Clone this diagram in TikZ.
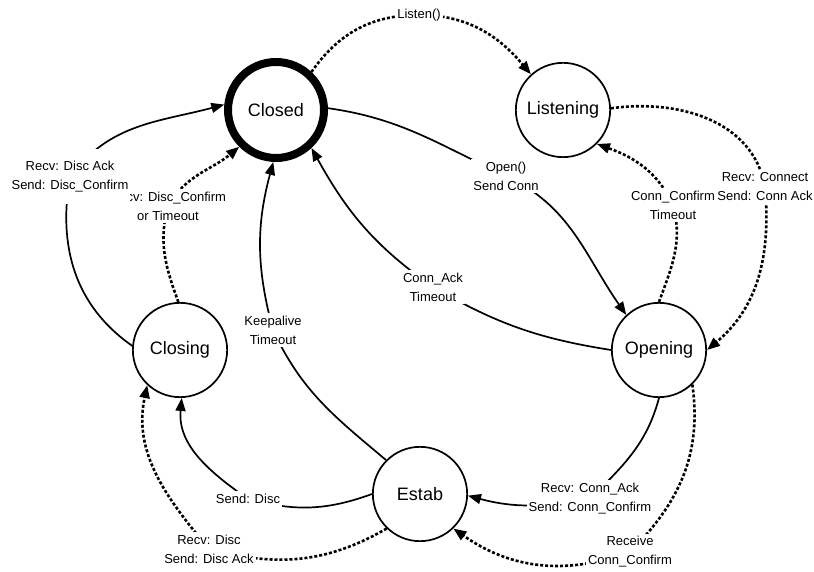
\documentclass[tikz,border=0pt]{standalone}
\usepackage{fontspec}
\setmainfont{Liberation Sans}
\usetikzlibrary{arrows.meta,backgrounds}
\begin{document}
\begin{tikzpicture}[x=1pt,y=1pt,
  state/.style={circle,draw,fill=white,line width=1.7pt,minimum size=94.3pt,inner sep=0pt,font=\fontsize{18}{21}\selectfont},
  lbl/.style={fill=white,align=center,inner xsep=2pt,inner ysep=3pt,font=\fontsize{13}{19}\selectfont},
  solidedge/.style={line width=1.7pt,-{Triangle[length=13pt,width=10pt]}},
  dashedge/.style={line width=2.6pt,dash pattern=on 3pt off 2pt,-{Triangle[length=13pt,width=10pt]}},
]
\useasboundingbox (0,0) rectangle (814,571);
% states
\node[state,line width=8pt,minimum size=96pt] (closed) at (276,461) {Closed};
\node[state] (listening) at (563,461) {Listening};
\node[state] (opening) at (659,221) {Opening};
\node[state] (estab) at (420,77) {Estab};
\node[state] (closing) at (180,221) {Closing};
% labels
\node[lbl] (lListen) at (419,556) {Listen()};
\node[lbl] (lOpen) at (506,395) {Open()\\Send Conn};
\node[lbl] (lConnect) at (765,384) {Recv: Connect\\Send: Conn Ack};
\node[lbl] (lConfT) at (673,366) {Conn\_Confirm\\Timeout};
\node[lbl] (lAckT) at (433,284) {Conn\_Ack\\Timeout};
\node[lbl] (lConnAck) at (590,72) {Recv: Conn\_Ack\\Send: Conn\_Confirm};
\node[lbl] (lReceive) at (630,19) {Receive\\Conn\_Confirm};
\node[lbl] (lKeep) at (273,241) {Keepalive\\Timeout};
\node[lbl] (lSendDisc) at (248,72) {Send: Disc};
\node[lbl] (lRecvDisc) at (209,22) {Recv: Disc\\Send: Disc Ack};
\node[lbl] (lDiscConf) at (168,365) {Recv: Disc\_Confirm\\or Timeout};
\node[lbl,inner ysep=12pt] (lDiscAck) at (70,394) {Recv: Disc Ack\\Send: Disc\_Confirm};
% connectors
\begin{scope}[on background layer]
\draw[dashedge] (closed.47) to[out=55,in=180] (lListen.center) to[out=0,in=130] (listening.132);
\draw[solidedge] (closed.2) to[out=-8,in=155] (lOpen.center) to[out=-25,in=125] (opening.133);
\draw[dashedge] (listening.2) to[out=8,in=100] (lConnect.center) to[out=-85,in=40] (opening.0);
\draw[dashedge] (opening.90) to[out=70,in=-75] (lConfT.center) to[out=115,in=-20] (listening.-45);
\draw[solidedge] (opening.180) to[out=171,in=-30] (lAckT.center) to[out=145,in=-61] (closed.-47);
\draw[solidedge] (opening.-90) to[out=-105,in=45] (lConnAck.center) to[out=190,in=-15] (estab.-2);
\draw[dashedge] (opening.-46) to[out=-82,in=45] (lReceive.center) to[out=200,in=-35] (estab.-46);
\draw[solidedge] (estab.135) to[out=140,in=-65] (lKeep.center) to[out=105,in=-105] (closed.-93);
\draw[solidedge] (estab.180) to[out=200,in=-15] (lSendDisc.center) to[out=145,in=-95] (closing.-88);
\draw[dashedge] (estab.-134) to[out=210,in=-15] (lRecvDisc.center) to[out=130,in=-102] (closing.227);
\draw[dashedge] (closing.92) to[out=110,in=-105] (lDiscConf.center) to[out=60,in=-140] (closed.-135);
\draw[solidedge] (closing.175) to[out=145,in=-100] (lDiscAck.center) to[out=54,in=-165] (closed.174);
\end{scope}
\end{tikzpicture}
\end{document}
